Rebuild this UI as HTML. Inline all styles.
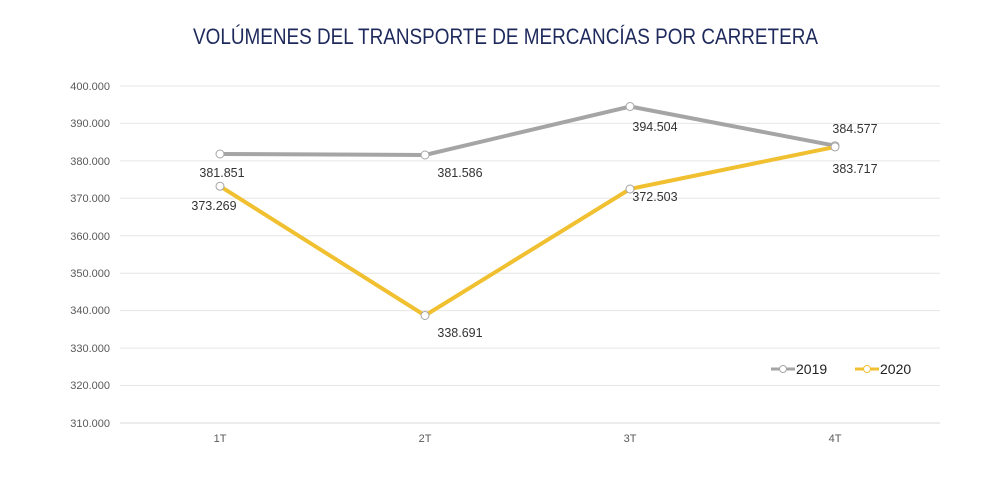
<!DOCTYPE html>
<html><head><meta charset="utf-8"><style>body{margin:0;background:#fff}svg{display:block}</style></head><body>
<svg width="1000" height="500" xmlns="http://www.w3.org/2000/svg" font-family="Liberation Sans, sans-serif">
<text x="193" y="44" font-size="22" fill="#1f2a5c" textLength="625" lengthAdjust="spacingAndGlyphs">VOLÚMENES DEL TRANSPORTE DE MERCANCÍAS POR CARRETERA</text>
<g stroke="#e6e6e6" stroke-width="1">
<line x1="120" x2="940" y1="86" y2="86"/><line x1="120" x2="940" y1="123.4" y2="123.4"/><line x1="120" x2="940" y1="160.9" y2="160.9"/><line x1="120" x2="940" y1="198.3" y2="198.3"/><line x1="120" x2="940" y1="235.8" y2="235.8"/><line x1="120" x2="940" y1="273.2" y2="273.2"/><line x1="120" x2="940" y1="310.6" y2="310.6"/><line x1="120" x2="940" y1="348.1" y2="348.1"/><line x1="120" x2="940" y1="385.5" y2="385.5"/></g>
<line x1="120" x2="940" y1="423" y2="423" stroke="#d9d9d9"/>
<g font-size="11" fill="#595959" text-anchor="end">
<text x="110" y="90">400.000</text><text x="110" y="127">390.000</text><text x="110" y="165">380.000</text><text x="110" y="202">370.000</text><text x="110" y="240">360.000</text><text x="110" y="277">350.000</text><text x="110" y="314">340.000</text><text x="110" y="352">330.000</text><text x="110" y="389">320.000</text><text x="110" y="427">310.000</text></g>
<g font-size="11" fill="#595959" text-anchor="middle"><text x="220" y="442">1T</text><text x="425" y="442">2T</text><text x="630" y="442">3T</text><text x="835" y="442">4T</text></g>
<polyline points="220,154 425,155 630,106.5 835,145.7" fill="none" stroke="#a5a5a5" stroke-width="4"/>
<polyline points="220,186.2 425,315.5 630,189 835,146.9" fill="none" stroke="#f0c030" stroke-width="4"/>
<g fill="#fff" stroke="#a5a5a5" stroke-width="1"><circle cx="220" cy="154" r="4"/><circle cx="425" cy="155" r="4"/><circle cx="630" cy="106.5" r="4"/><circle cx="835" cy="145.7" r="4"/>
<circle cx="220" cy="186.2" r="4"/><circle cx="425" cy="315.5" r="4"/><circle cx="630" cy="189" r="4"/><circle cx="835" cy="146.9" r="4"/></g>
<g font-size="12.5" fill="#333" text-anchor="middle">
<text x="222" y="177">381.851</text><text x="460" y="177">381.586</text><text x="655" y="131">394.504</text><text x="855" y="133">384.577</text>
<text x="214" y="210">373.269</text><text x="460" y="337">338.691</text><text x="655" y="201">372.503</text><text x="855" y="173">383.717</text></g>
<g font-size="14" fill="#222">
<line x1="771" x2="795" y1="369" y2="369" stroke="#a5a5a5" stroke-width="3"/><circle cx="783" cy="369" r="3.5" fill="#fff" stroke="#a5a5a5"/><text x="796" y="374">2019</text>
<line x1="855" x2="879" y1="369" y2="369" stroke="#f0c030" stroke-width="3"/><circle cx="867" cy="369" r="3.5" fill="#fff" stroke="#f0c030"/><text x="880" y="374">2020</text></g>
</svg></body></html>
